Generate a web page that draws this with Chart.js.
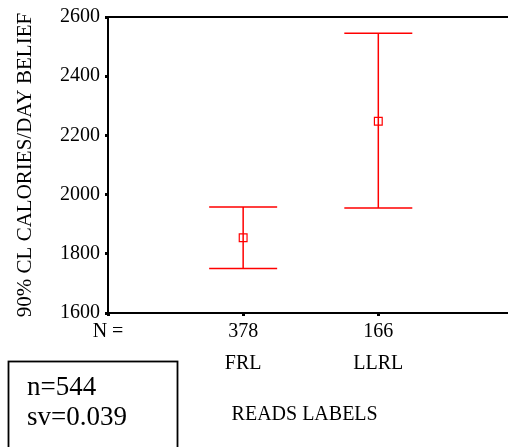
<!DOCTYPE html>
<html>
<head>
<meta charset="utf-8">
<script src="https://cdn.jsdelivr.net/npm/chart.js@4"></script>
<style>
  html, body { margin:0; padding:0; background:#fff; }
  #wrap { width:508px; height:447px; position:relative; }
</style>
</head>
<body>
<div id="wrap"><canvas id="chart"></canvas></div>
<script>
// ── data ──
const groups = ['FRL', 'LLRL'];
const nValues = [378, 166];
const means = [1854, 2248];
const lower = [1750, 1955];
const upper = [1958, 2545];
const yTicks = [1600, 1800, 2000, 2200, 2400, 2600];
const noteLines = ['n=544', 'sv=0.039'];

const SERIF = '"Liberation Serif", "DejaVu Serif", serif';
const RED = '#ff0000';

// error bars + frame + note box
const extras = {
  id: 'extras',
  afterDatasetsDraw(chart) {
    const { ctx, chartArea: a, scales: { x, y } } = chart;
    ctx.save();
    ctx.strokeStyle = RED;
    ctx.lineWidth = 1.5;
    groups.forEach((g, i) => {
      const px = x.getPixelForValue(i + 1);
      const yl = y.getPixelForValue(lower[i]);
      const yh = y.getPixelForValue(upper[i]);
      const cap = 34;
      ctx.beginPath();
      ctx.moveTo(px, yh); ctx.lineTo(px, yl);
      ctx.moveTo(px - cap, yh); ctx.lineTo(px + cap, yh);
      ctx.moveTo(px - cap, yl); ctx.lineTo(px + cap, yl);
      ctx.stroke();
    });
    // top frame line and bottom axis run out to the canvas edge
    ctx.strokeStyle = '#000';
    ctx.lineWidth = 2;
    ctx.beginPath();
    ctx.moveTo(a.left, a.top); ctx.lineTo(chart.width, a.top);
    ctx.moveTo(a.left, a.bottom); ctx.lineTo(chart.width, a.bottom);
    ctx.stroke();
    ctx.restore();
  },
  afterDraw(chart) {
    const { ctx } = chart;
    ctx.save();
    ctx.strokeStyle = '#000';
    ctx.lineWidth = 1.8;
    ctx.strokeRect(8.5, 361.5, 169, 100);
    ctx.fillStyle = '#000';
    ctx.font = '27px ' + SERIF;
    ctx.textBaseline = 'middle';
    ctx.textAlign = 'left';
    ctx.fillText(noteLines[0], 27, 388);
    ctx.fillText(noteLines[1], 27, 418);
    ctx.restore();
  }
};

new Chart(document.getElementById('chart'), {
  type: 'scatter',
  data: {
    datasets: [{
      label: 'mean',
      data: means.map((m, i) => ({ x: i + 1, y: m })),
      pointStyle: 'rect',
      pointRadius: 5.5,
      pointHoverRadius: 5.5,
      borderColor: RED,
      backgroundColor: 'rgba(0,0,0,0)',
      borderWidth: 1.2,
      order: -1,
    }],
  },
  options: {
    responsive: true, maintainAspectRatio: false,
    animation: false,
    events: [],
    layout: { padding: { top: 15, right: 0, bottom: 0, left: 0 } },
    plugins: { legend: { display: false }, tooltip: { enabled: false } },
    scales: {
      x: {
        type: 'linear',
        min: 0, max: 2.91,
        afterFit: s => { s.height = 134; },
        afterBuildTicks: s => { s.ticks = [0, 1, 2].map(v => ({ value: v })); },
        grid: { display: true, drawOnChartArea: false, drawTicks: true, tickLength: 3, tickWidth: 3, tickColor: '#000' },
        border: { display: true, color: '#000', width: 2 },
        ticks: {
          autoSkip: false, maxRotation: 0, padding: 0,
          color: '#000',
          font: { family: SERIF, size: 20, lineHeight: 1.6 },
          callback: v => v === 0 ? ['N =', ''] : [String(nValues[v - 1]), groups[v - 1]],
        },
        title: {
          display: true, text: 'READS LABELS', color: '#000',
          font: { family: SERIF, size: 20 },
          padding: { top: 0, bottom: 20 },
        },
      },
      y: {
        min: 1600, max: 2600,
        afterFit: s => { s.width = 108; },
        afterBuildTicks: s => { s.ticks = yTicks.map(v => ({ value: v })); },
        grid: { display: true, drawOnChartArea: false, drawTicks: true, tickLength: 3, tickWidth: 3, tickColor: '#000' },
        border: { display: true, color: '#000', width: 2 },
        ticks: {
          padding: 5, color: '#000',
          font: { family: SERIF, size: 20 },
          callback: v => String(v),
        },
        title: {
          display: true, text: '90% CL CALORIES/DAY BELIEF', color: '#000',
          font: { family: SERIF, size: 21 },
          padding: { top: 13, bottom: 0 },
        },
      },
    },
  },
  plugins: [extras],
});
</script>
</body>
</html>
